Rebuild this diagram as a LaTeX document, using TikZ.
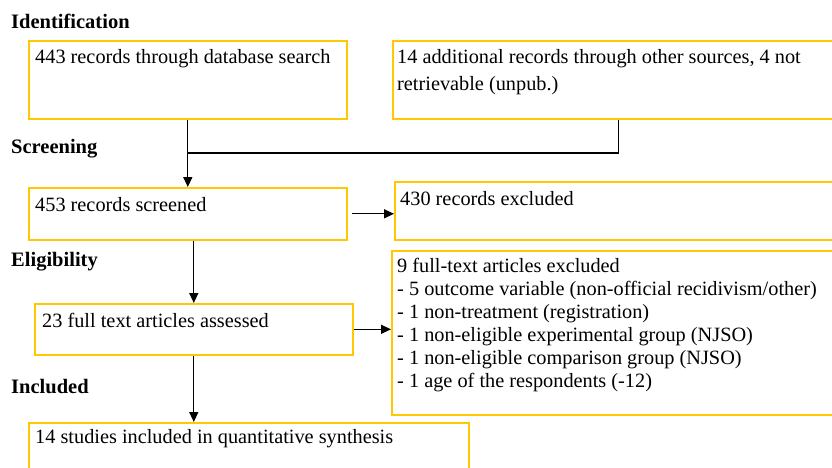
\documentclass[tikz,border=0pt]{standalone}
\usepackage{fontspec}
\setmainfont{Liberation Serif}
\usetikzlibrary{arrows.meta}
\definecolor{boxgold}{RGB}{255,200,0}
\tikzset{
  box/.style={draw=boxgold, line width=1.6pt, rectangle, inner sep=0pt, anchor=north west},
  txt/.style={anchor=base west, inner sep=0pt, font=\fontsize{20.3}{23}\selectfont, align=left},
  head/.style={anchor=base west, inner sep=0pt, font=\fontsize{20.5}{23}\selectfont\bfseries},
  conn/.style={draw=black, line width=1.3pt},
  arr/.style={conn, -{Triangle[length=10pt,width=9pt]}}
}
\begin{document}
\begin{tikzpicture}[x=1pt,y=-1pt]
\useasboundingbox (0,0) rectangle (832,467);
% headings
\node[head] (h1) at (11,28) {Identification};
\node[head] (h2) at (11,153) {Screening};
\node[head] (h3) at (11,266) {Eligibility};
\node[head] (h4) at (11,393) {Included};
% boxes
\node[box, minimum width=318pt, minimum height=78pt] (b1) at (28,40) {};
\node[box, minimum width=452pt, minimum height=78pt] (b2) at (392,40) {};
\node[box, minimum width=318pt, minimum height=52pt] (b3) at (28,187) {};
\node[box, minimum width=450pt, minimum height=58pt] (b4) at (394,181) {};
\node[box, minimum width=318pt, minimum height=51pt] (b5) at (34,303) {};
\node[box, minimum width=450pt, minimum height=164pt] (b6) at (391,250) {};
\node[box, minimum width=440pt, minimum height=60pt] (b7) at (28,422) {};
% texts
\node[txt] (t1) at (35,63) {443 records through database search};
\node[txt] (t2) at (397,63) {14 additional records through other sources, 4 not};
\node[txt] (t2b) at (397,90) {retrievable (unpub.)};
\node[txt] (t3) at (35,211) {453 records screened};
\node[txt] (t4) at (400,205) {430 records excluded};
\node[txt] (t5) at (42,327) {23 full text articles assessed};
\node[txt] (t6a) at (397,272) {9 full-text articles excluded};
\node[txt] (t6b) at (397,295) {- 5 outcome variable (non-official recidivism/other)};
\node[txt] (t6c) at (397,318) {- 1 non-treatment (registration)};
\node[txt] (t6d) at (397,341) {- 1 non-eligible experimental group (NJSO)};
\node[txt] (t6e) at (397,364) {- 1 non-eligible comparison group (NJSO)};
\node[txt] (t6f) at (397,387) {- 1 age of the respondents (-12)};
\node[txt] (t7) at (35,443) {14 studies included in quantitative synthesis};
% connectors
\coordinate (j) at (b1.south |- 0,153);
\draw[conn] (b1.south) -- (j);
\draw[conn] (b2.south) -- (b2.south |- j) -- (j);
\draw[arr] (j) -- (b3.north);
\draw[arr] ([xshift=4pt]b3.east) -- (b3.east -| b4.west);
\draw[arr] (b5.north |- b3.south) -- (b5.north);
\draw[arr] (b5.east) -- (b5.east -| b6.west);
\draw[arr] (b5.south) -- (b5.south |- b7.north);
\end{tikzpicture}
\end{document}
